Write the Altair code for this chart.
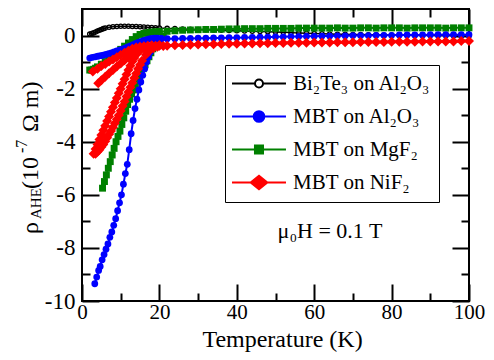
import altair as alt
import pandas as pd

FONT = "Liberation Serif"

# ---------------- data ----------------
T_high = [22, 24, 26, 28, 30, 32, 34, 36, 38, 40, 42, 44, 46, 48, 50, 52, 54, 56, 58, 60,
          62, 64, 66, 68, 70, 72, 74, 76, 78, 80, 82, 84, 86, 88, 90, 92, 94, 96, 98, 100]

# Bi2Te3 on Al2O3 (black, open circles)
black_T = [2, 2.5, 3, 3.5, 4, 4.5, 5, 5.5, 6, 7, 8, 9, 10, 11, 12, 13, 14, 15, 16, 17, 18, 19, 20]
black_y = [0.06, 0.08, 0.1, 0.13, 0.17, 0.2, 0.23, 0.26, 0.28, 0.31, 0.33, 0.34, 0.35, 0.35, 0.35,
           0.34, 0.34, 0.33, 0.32, 0.31, 0.3, 0.29, 0.28]
black_high = [0.27, 0.26, 0.25, 0.24, 0.23, 0.22, 0.21, 0.2, 0.19, 0.18, 0.17, 0.16, 0.15, 0.14,
              0.13, 0.12, 0.11, 0.1, 0.09, 0.08, 0.07, 0.06, 0.05, 0.05, 0.04, 0.04, 0.03, 0.03,
              0.02, 0.02, 0.01, 0.01, 0.0, 0.0, 0.0, -0.01, -0.01, -0.01, -0.02, -0.02]

# MBT on Al2O3 (blue circles)
blue_main_T = [3.3, 3.8, 4.3, 4.7, 5.2, 5.7, 6.2, 6.7, 7.2, 7.7, 8.2, 8.7, 9.2, 9.7, 10.2, 10.7,
               11.2, 11.7, 12.2, 12.7, 13.2, 13.7, 14.2, 14.7, 15.2, 15.7, 16.2, 16.7, 17.2, 17.7,
               18.2, 18.7, 19.2, 19.7, 20.5]
blue_main_y = [-9.35, -9.1, -8.85, -8.7, -8.45, -8.25, -8.05, -7.85, -7.6, -7.4, -7.15, -6.9, -6.6,
               -6.3, -6.0, -5.6, -5.2, -4.85, -4.3, -3.7, -3.2, -2.75, -2.4, -2.05, -1.75, -1.5,
               -1.25, -1.0, -0.8, -0.62, -0.48, -0.36, -0.26, -0.18, -0.13]
blue_high = [-0.12, -0.12, -0.11, -0.11, -0.1, -0.1, -0.09, -0.09, -0.08, -0.08, -0.07, -0.07,
             -0.06, -0.06, -0.05, -0.05, -0.04, -0.04, -0.03, -0.03, -0.02, -0.02, -0.01, -0.01,
             0.0, 0.0, 0.0, 0.01, 0.01, 0.01, 0.02, 0.02, 0.02, 0.02, 0.03, 0.03, 0.03, 0.03,
             0.03, 0.03]
blue_up_T = [2.0, 2.7, 3.4, 4.1, 4.8, 5.5, 6.2, 6.9, 7.6, 8.3, 9.0, 9.7, 10.4, 11.1, 11.8, 12.5,
             13.2, 13.9, 14.6, 15.3, 16.0, 16.7, 17.4, 18.1, 18.8, 19.5, 20.5]
blue_up_y = [-0.85, -0.82, -0.8, -0.78, -0.76, -0.74, -0.71, -0.68, -0.65, -0.62, -0.58, -0.55,
             -0.51, -0.47, -0.43, -0.39, -0.34, -0.3, -0.26, -0.22, -0.18, -0.15, -0.13, -0.11,
             -0.1, -0.1, -0.11]

# MBT on MgF2 (green squares)
green_main_T = [5.3, 5.8, 6.3, 6.8, 7.3, 7.8, 8.3, 8.8, 9.3, 9.8, 10.3, 10.8, 11.3, 11.8, 12.3,
                12.8, 13.3, 13.8, 14.3, 14.8, 15.3, 15.8, 16.3, 16.8, 17.3, 17.8, 18.3, 18.8,
                19.3, 20, 21]
green_main_y = [-5.75, -5.5, -5.25, -5.0, -4.75, -4.5, -4.25, -4.0, -3.8, -3.6, -3.35, -3.1, -2.85,
                -2.6, -2.4, -2.2, -2.05, -1.88, -1.7, -1.55, -1.4, -1.25, -1.1, -0.95, -0.8, -0.65,
                -0.5, -0.38, -0.27, -0.15, -0.02]
green_up_T = [2.0, 2.5, 3, 3.5, 4, 5, 6, 7, 8, 9, 10, 11, 12, 13, 14, 15, 16, 17, 18, 19, 20]
green_up_y = [-1.3, -1.3, -1.27, -1.23, -1.18, -1.08, -0.98, -0.87, -0.76, -0.64, -0.52, -0.4,
              -0.28, -0.15, -0.04, 0.04, 0.08, 0.11, 0.13, 0.14, 0.15]
green_high = [0.16, 0.18, 0.2, 0.21, 0.22, 0.23, 0.23, 0.24, 0.25, 0.25, 0.26, 0.26, 0.26, 0.27,
              0.27, 0.27, 0.27, 0.28, 0.28, 0.28, 0.28, 0.28, 0.29, 0.28, 0.28, 0.29, 0.29, 0.28,
              0.29, 0.29, 0.29, 0.28, 0.29, 0.29, 0.29, 0.29, 0.28, 0.29, 0.29, 0.29]

# MBT on NiF2 (red diamonds)
red_a_T = [3.0, 3.5, 4, 4.5, 5, 5.5, 6, 6.5, 7, 7.5, 8, 8.5, 9, 9.5, 10, 10.5, 11, 11.5, 12, 12.5,
           13, 13.5, 14, 15, 16, 17, 18, 19, 20]
red_a_y = [-4.45, -4.27, -4.1, -3.92, -3.75, -3.57, -3.4, -3.22, -3.05, -2.87, -2.7, -2.52, -2.35,
           -2.17, -2.0, -1.82, -1.65, -1.47, -1.3, -1.14, -0.98, -0.85, -0.72, -0.55, -0.46, -0.42,
           -0.39, -0.38, -0.37]
red_b_T = [3.5, 4, 4.5, 5, 5.5, 6, 6.5, 7, 7.5, 8, 8.5, 9, 9.5, 10, 10.5, 11, 11.5, 12, 12.5, 13,
           13.5, 14, 14.5, 15, 15.5, 16.5, 17.5, 18.5, 19.5, 21]
red_b_y = [-4.45, -4.38, -4.3, -4.2, -4.1, -3.98, -3.85, -3.72, -3.6, -3.45, -3.3, -3.15, -3.0,
           -2.83, -2.65, -2.48, -2.3, -2.13, -1.95, -1.78, -1.6, -1.43, -1.25, -1.1, -0.95, -0.72,
           -0.56, -0.47, -0.42, -0.39]
red_f1_T = [2.8, 4, 5, 6, 7, 8, 9, 10, 11, 12, 13, 14, 15, 16, 17, 18, 20]
red_f1_y = [-1.35, -1.25, -1.15, -1.07, -0.98, -0.9, -0.82, -0.73, -0.65, -0.57, -0.5, -0.45,
            -0.42, -0.4, -0.38, -0.37, -0.37]
red_f2_T = [4.2, 5, 6, 7, 8, 9, 10, 11, 12, 13, 14, 15, 16, 17, 18, 20]
red_f2_y = [-1.8, -1.68, -1.55, -1.42, -1.3, -1.17, -1.05, -0.93, -0.82, -0.72, -0.63, -0.55,
            -0.48, -0.43, -0.4, -0.38]
red_high = [-0.38, -0.37, -0.36, -0.35, -0.34, -0.33, -0.33, -0.32, -0.31, -0.31, -0.3, -0.3,
            -0.29, -0.29, -0.28, -0.28, -0.27, -0.27, -0.27, -0.26, -0.26, -0.26, -0.25, -0.25,
            -0.25, -0.24, -0.24, -0.24, -0.24, -0.23, -0.23, -0.23, -0.23, -0.22, -0.22, -0.22,
            -0.22, -0.22, -0.21, -0.21]

legend_labels = ["Bi₂Te₃ on Al₂O₃", "MBT on Al₂O₃", "MBT on MgF₂", "MBT on NiF₂"]
legend_stroke = ["black", "#0000ff", "#008000", "#ff0000"]
legend_fill = ["white", "#0000ff", "#008000", "#ff0000"]

x_major = [0, 20, 40, 60, 80, 100]
x_minor = [10, 30, 50, 70, 90]
y_major = [-10, -8, -6, -4, -2, 0]
y_minor = [-9, -7, -5, -3, -1]

# ---------------- table ----------------
rows = []


def add(series, branch, Ts, ys):
    for t, v in zip(Ts, ys):
        rows.append({"series": series, "branch": branch, "T": t, "rho": v})


add("black", "b0", black_T + T_high, black_y + black_high)
add("blue", "main", blue_main_T + T_high, blue_main_y + blue_high)
add("blue", "up", blue_up_T, blue_up_y)
add("green", "main", green_main_T, green_main_y)
add("green", "up", green_up_T + T_high, green_up_y + green_high)
add("red", "a", red_a_T, red_a_y)
add("red", "b", red_b_T + T_high, red_b_y + red_high)
add("red", "f1", red_f1_T, red_f1_y)
add("red", "f2", red_f2_T, red_f2_y)
df = pd.DataFrame(rows)

x_scale = alt.Scale(domain=[0, 100], nice=False, zero=False)
y_scale = alt.Scale(domain=[-10, 1], nice=False, zero=False)

# axes: labels, major ticks (inward), minor ticks (inward), mirrored on top/right
x_axes = [
    alt.Axis(orient="bottom", values=x_major, ticks=False, labelExpr="'' + datum.value",
             labelPadding=0, labelFlush=False, labelFontSize=21, title="Temperature (K)",
             titleFontSize=24, titleX=200, titleY=45, titleBaseline="alphabetic"),
    alt.Axis(orient="bottom", values=x_major, labels=False, tickSize=alt.ExprRef(expr="-17"), title=None),
    alt.Axis(orient="bottom", values=x_minor, labels=False, tickSize=alt.ExprRef(expr="-8"), title=None),
    alt.Axis(orient="top", values=x_major, labels=False, tickSize=alt.ExprRef(expr="-17"), title=None),
    alt.Axis(orient="top", values=x_minor, labels=False, tickSize=alt.ExprRef(expr="-8"), title=None),
]
y_axes = [
    alt.Axis(orient="left", values=y_major, ticks=False, labelExpr="'' + datum.value",
             labelPadding=7, labelFlush=False, labelFontSize=23, title=None),
    alt.Axis(orient="left", values=y_major, labels=False, tickSize=alt.ExprRef(expr="-17"), title=None),
    alt.Axis(orient="left", values=y_minor, labels=False, tickSize=alt.ExprRef(expr="-8"), title=None),
    alt.Axis(orient="right", values=y_major, labels=False, tickSize=alt.ExprRef(expr="-17"), title=None),
    alt.Axis(orient="right", values=y_minor, labels=False, tickSize=alt.ExprRef(expr="-8"), title=None),
]

styles = [
    ("black", "black", "circle", False, 18, 1.3, 1.5),
    ("green", "#008000", "square", True, 48, 1, 2),
    ("blue", "#0000ff", "circle", True, 46, 1, 2),
    ("red", "#ff0000", "diamond", True, 100, 1, 3),
]

layers = []
axis_i = 0
for series, col, shape, filled, size, sw, lw in styles:
    base = alt.Chart(df).transform_filter(alt.datum.series == series)
    for kind in ("line", "point"):
        xa = x_axes[axis_i] if axis_i < len(x_axes) else None
        ya = y_axes[axis_i] if axis_i < len(y_axes) else None
        axis_i += 1
        enc = dict(
            x=alt.X("T:Q", scale=x_scale, axis=xa),
            y=alt.Y("rho:Q", scale=y_scale, axis=ya),
        )
        if kind == "line":
            m = base.mark_line(color=col, strokeWidth=lw).encode(
                detail="branch:N", order="T:Q", **enc)
        else:
            m = base.mark_point(shape=shape, filled=filled, color=col, size=size,
                                strokeWidth=sw, opacity=1).encode(**enc)
        layers.append(m)

# legend: line + marker symbols via custom paths
legend_paths = [
    "M-4.15,0L-0.62,0M0.62,0L4.15,0M0.62,0A0.62,0.62,0,1,1,-0.62,0A0.62,0.62,0,1,1,0.62,0Z",
    "M-4.15,0L4.15,0M0.82,0A0.82,0.82,0,1,1,-0.82,0A0.82,0.82,0,1,1,0.82,0Z",
    "M-4.15,0L4.15,0M-0.62,-0.62L0.62,-0.62L0.62,0.62L-0.62,0.62Z",
    "M-4.15,0L4.15,0M0,-1.05L1.28,0L0,1.05L-1.28,0Z",
]
leg = alt.Legend(orient="none", legendX=143, legendY=56, title=None, strokeColor="black",
                 fillColor="white", padding=8, labelFont=FONT, labelFontSize=21,
                 labelColor="black", symbolSize=169, symbolStrokeWidth=2, symbolOffset=15.5,
                 labelOffset=23.5, rowPadding=11, labelLimit=400)
legend_df = pd.DataFrame({"series": legend_labels})
legend_layer = alt.Chart(legend_df).transform_filter("false").mark_point(
    filled=True, opacity=1, size=169, strokeWidth=2).encode(
    shape=alt.Shape("series:N", scale=alt.Scale(domain=legend_labels, range=legend_paths), legend=leg),
    fill=alt.Fill("series:N", scale=alt.Scale(domain=legend_labels, range=legend_fill), legend=leg),
    stroke=alt.Stroke("series:N", scale=alt.Scale(domain=legend_labels, range=legend_stroke), legend=leg),
)
layers.append(legend_layer)

# y-axis title pieces and annotation
one = pd.DataFrame({"a": [0]})


def txt(s, x, y, fs, angle=270, align="left"):
    return alt.Chart(one).mark_text(text=s, angle=angle, align=align, baseline="alphabetic",
                                    font=FONT, fontSize=fs, color="black").encode(
        x=alt.value(x), y=alt.value(y))


layers += [
    txt("ρ", -44, 225, 24),
    txt("AHE", -41, 210, 15),
    txt("(10", -44, 180, 24),
    txt("-7", -55, 144, 16),
    txt("Ω m)", -44, 123, 24),
    txt("μ₀H = 0.1 T", 248, 229, 22, angle=0, align="center"),
]

chart = alt.layer(*layers).resolve_axis(x="independent", y="independent").properties(
    width=387, height=292,
    autosize=alt.AutoSizeParams(type="none"),
    padding={"left": 74, "top": 1, "right": 17, "bottom": 51},
).configure_view(stroke="black", strokeWidth=2).configure_axis(
    domain=False, grid=False, tickColor="black", tickWidth=2, labelFont=FONT, titleFont=FONT,
    labelColor="black", titleColor="black", titleFontWeight="normal",
)

chart.save("out.html", embed_options={"renderer": "svg", "actions": False})
